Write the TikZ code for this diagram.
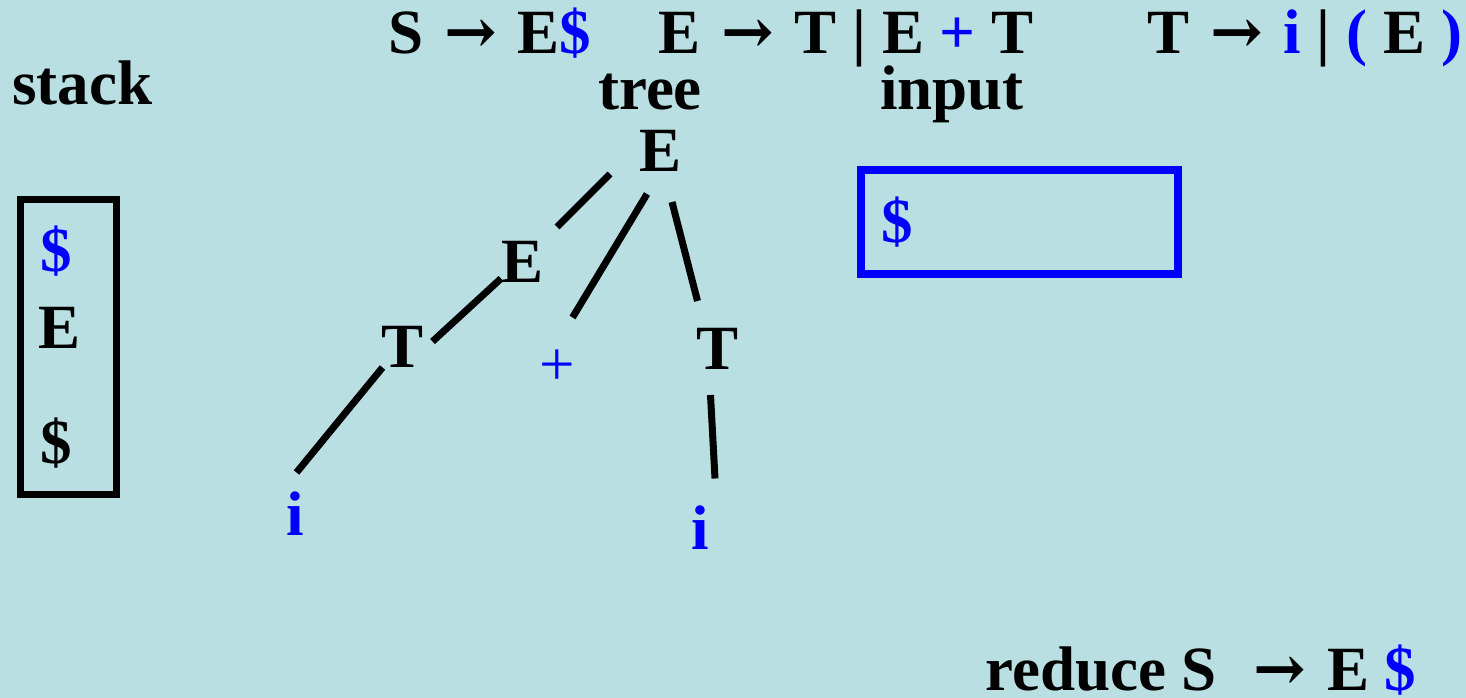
\documentclass[tikz,border=0pt]{standalone}
\usepackage{fontspec}
\setmainfont{Liberation Serif}
\newfontfamily\arrowfont{DejaVu Serif}
\usetikzlibrary{positioning}
\definecolor{slidebg}{RGB}{186,223,227}
\definecolor{tokblue}{RGB}{0,0,255}
\newcommand\prodto{\makebox[1em]{\arrowfont →}}

\begin{document}
\begin{tikzpicture}[x=1pt, y=-1pt,
    sym/.style={font=\fontsize{63}{70}\selectfont\bfseries, inner sep=0pt},
    head/.style={sym, anchor=base west},
    tok/.style={sym, text=tokblue},
    branch/.style={line width=7pt},
    stackbox/.style={draw, line width=7pt, minimum width=95.5pt, minimum height=295pt, inner sep=0pt},
    inputbox/.style={draw=tokblue, line width=8pt, minimum width=316.5pt, minimum height=104pt, inner sep=0pt}]
  \fill[slidebg] (0,0) rectangle (1466,698);
  \useasboundingbox (0,0) rectangle (1466,698);

  % Grammar
  \node[head] (g1) at (388,54) {S \prodto{} E{\color{tokblue}\$}};
  \node[head] (g2) at (658,54) {E \prodto{} T | E {\color{tokblue}+} T};
  \node[head] (g3) at (1147,54) {T \prodto{} {\color{tokblue}i} | {\color{tokblue}(} E {\color{tokblue})}};

  % Headings
  \node[head] (stackhd) at (12,105) {stack};
  \node[head] (treehd) at (598,110) {tree};
  \node[head] (inputhd) at (880,110) {input};

  % Stack
  \node[stackbox] (stk) at (68.25,347) {};
  \node[tok, anchor=base] (s1) at (56,271) {\$};
  \node[sym, anchor=base] (s2) at (60,348) {E};
  \node[sym, anchor=base] (s3) at (56,463) {\$};

  % Input
  \node[inputbox] (inp) at (1019.25,222) {};
  \node[tok, anchor=base] (in1) at (897,242) {\$};

  % Tree nodes
  \node[sym] (rE) at (661,151) {E};
  \node[sym] (mE) at (523,261.5) {E};
  \node[sym] (lT) at (402.5,346.5) {T};
  \node[tok, font=\fontsize{63}{70}\selectfont\mdseries] (pl) at (557.5,367.5) {+};
  \node[sym] (rT) at (717.5,348.5) {T};
  \node[tok] (li) at (295.5,513.5) {i};
  \node[tok] (ri) at (700,527.5) {i};

  % Branches
  \draw[branch] ([shift={(-51,23)}]rE.center) -- ([shift={(34,-34.5)}]mE.center);
  \draw[branch] ([shift={(-14,43)}]rE.center) -- ([shift={(15,-50)}]pl.center);
  \draw[branch] ([shift={(11,51)}]rE.center) -- ([shift={(-20,-47.5)}]rT.center);
  \draw[branch] ([shift={(-22,17)}]mE.center) -- ([shift={(30,-5)}]lT.center);
  \draw[branch] ([shift={(-20,21)}]lT.center) -- ([shift={(1,-41)}]li.center);
  \draw[branch] ([shift={(-7,46.5)}]rT.center) -- ([shift={(15,-49)}]ri.center);

  % Action
  \node[head] (act) at (985,690) {reduce S\ \ \prodto{} E {\color{tokblue}\$}};
\end{tikzpicture}
\end{document}
